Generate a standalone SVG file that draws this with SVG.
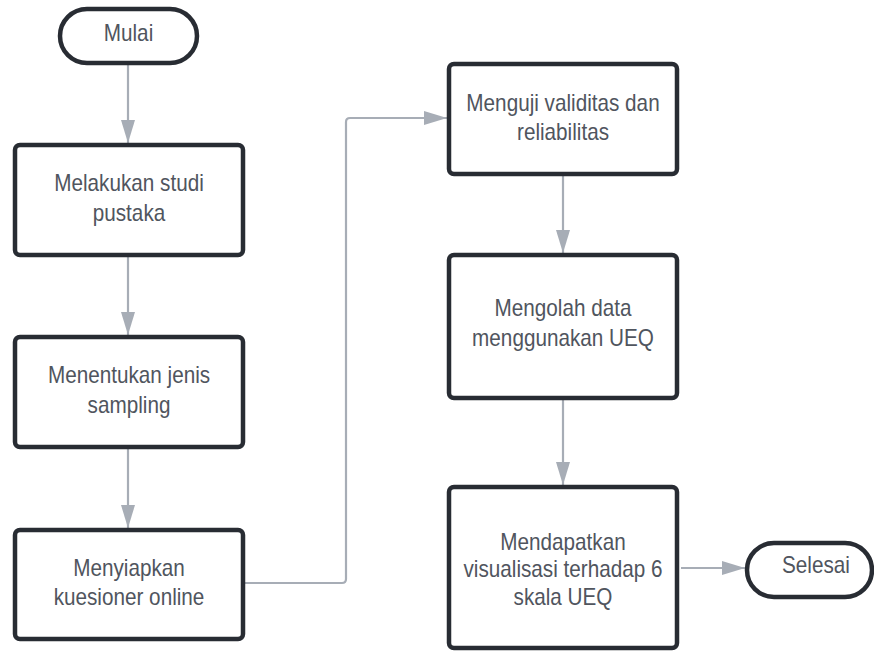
<svg xmlns="http://www.w3.org/2000/svg" width="874" height="651" viewBox="0 0 874 651">
<defs>
<style>
.box{fill:#ffffff;stroke:#282c33;stroke-width:4.5}
.lbl{font-family:"Liberation Sans",Arial,sans-serif;font-size:23px;fill:#50555e;text-anchor:middle}
.conn{fill:none;stroke:#a7adb6;stroke-width:2.2}
</style>
<marker id="arr" markerUnits="userSpaceOnUse" markerWidth="24" markerHeight="14" refX="23" refY="7" orient="auto">
<path d="M0,0 L23,7 L0,14 Z" fill="#a7adb6"/>
</marker>
</defs>
<rect width="874" height="651" fill="#ffffff"/>
<g id="connectors">
<path class="conn" d="M128,65 V143" marker-end="url(#arr)"/>
<path class="conn" d="M128,257 V335" marker-end="url(#arr)"/>
<path class="conn" d="M128,449 V528" marker-end="url(#arr)"/>
<path class="conn" d="M245,583 H342 Q346,583 346,579 V122 Q346,118 350,118 H447" marker-end="url(#arr)"/>
<path class="conn" d="M563,176 V253" marker-end="url(#arr)"/>
<path class="conn" d="M563,400 V485" marker-end="url(#arr)"/>
<path class="conn" d="M681,568 H745" marker-end="url(#arr)"/>
</g>
<g id="mulai">
<rect class="box" x="60" y="9" width="137" height="54" rx="27"/>
<text class="lbl" transform="translate(128.5,0) scale(0.9,1)"><tspan x="0" y="41">Mulai</tspan></text>
</g>
<g id="studi-pustaka">
<rect class="box" x="15" y="145" width="228" height="110" rx="5"/>
<text class="lbl" transform="translate(129,0) scale(0.9,1)"><tspan x="0" y="191">Melakukan studi</tspan><tspan x="0" y="221">pustaka</tspan></text>
</g>
<g id="jenis-sampling">
<rect class="box" x="15" y="337" width="228" height="110" rx="5"/>
<text class="lbl" transform="translate(129,0) scale(0.9,1)"><tspan x="0" y="383">Menentukan jenis</tspan><tspan x="0" y="413">sampling</tspan></text>
</g>
<g id="kuesioner">
<rect class="box" x="15" y="530" width="228" height="109" rx="5"/>
<text class="lbl" transform="translate(129,0) scale(0.9,1)"><tspan x="0" y="576">Menyiapkan</tspan><tspan x="0" y="605">kuesioner online</tspan></text>
</g>
<g id="validitas">
<rect class="box" x="449" y="64" width="228" height="110" rx="5"/>
<text class="lbl" transform="translate(563,0) scale(0.9,1)"><tspan x="0" y="111">Menguji validitas dan</tspan><tspan x="0" y="140">reliabilitas</tspan></text>
</g>
<g id="olah-data">
<rect class="box" x="449" y="255" width="228" height="143" rx="5"/>
<text class="lbl" transform="translate(563,0) scale(0.9,1)"><tspan x="0" y="316">Mengolah data</tspan><tspan x="0" y="346">menggunakan UEQ</tspan></text>
</g>
<g id="visualisasi">
<rect class="box" x="449" y="487" width="228" height="161" rx="5"/>
<text class="lbl" transform="translate(563,0) scale(0.9,1)"><tspan x="0" y="550">Mendapatkan</tspan><tspan x="0" y="577">visualisasi terhadap 6</tspan><tspan x="0" y="605">skala UEQ</tspan></text>
</g>
<g id="selesai">
<rect class="box" x="747" y="543" width="125" height="54" rx="27"/>
<text class="lbl" transform="translate(816,0) scale(0.9,1)"><tspan x="0" y="573">Selesai</tspan></text>
</g>
</svg>
